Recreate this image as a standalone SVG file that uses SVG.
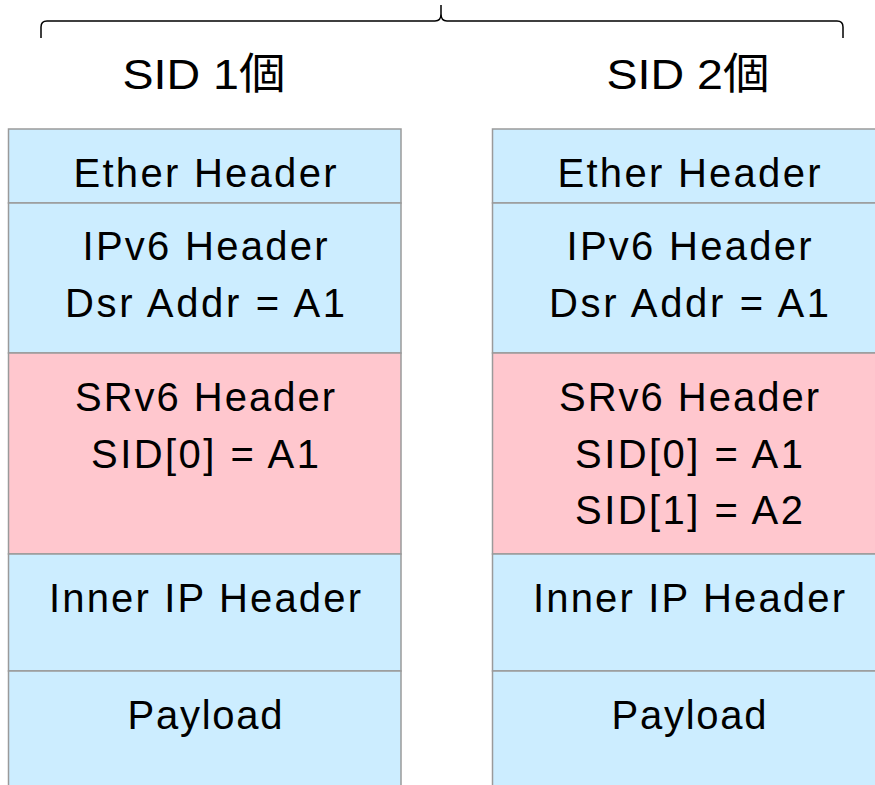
<svg xmlns="http://www.w3.org/2000/svg" width="875" height="785" viewBox="0 0 875 785">
<style>
.blue{fill:#CCEDFF;stroke:#9a9a9a;stroke-width:1.5}
.pink{fill:#FFC7CE;stroke:#9a9a9a;stroke-width:1.5}
text{font-family:"Liberation Sans","Noto Sans CJK JP",sans-serif;font-size:40px;fill:#000;text-anchor:middle}
.title{font-size:43px}
.brace{fill:none;stroke:#000;stroke-width:1.5}
</style>
<rect width="875" height="785" fill="#fff"/>
<g id="brace">
<path class="brace" d="M41,38 V27 Q41,21 47,21 H435 Q441,21 441,14 V5 M441,14 Q441,21 447,21 H837 Q843,21 843,27 V38"/>
</g>
<g id="title1"><text class="title" x="204" y="89" textLength="163" lengthAdjust="spacingAndGlyphs">SID 1個</text></g>
<g id="title2"><text class="title" x="688" y="89" textLength="163" lengthAdjust="spacingAndGlyphs">SID 2個</text></g>

<g id="l-ether"><rect class="blue" x="8.5" y="129" width="392.5" height="74"/><text x="205" y="187" textLength="263" lengthAdjust="spacing">Ether Header</text></g>
<g id="l-ipv6"><rect class="blue" x="8.5" y="203" width="392.5" height="150"/><text x="205" y="260" textLength="245" lengthAdjust="spacing">IPv6 Header</text><text x="205" y="317" textLength="280" lengthAdjust="spacing">Dsr Addr = A1</text></g>
<g id="l-srv6"><rect class="pink" x="8.5" y="353" width="392.5" height="201"/><text x="205" y="411" textLength="260" lengthAdjust="spacing">SRv6 Header</text><text x="205" y="468" textLength="228" lengthAdjust="spacing">SID[0] = A1</text></g>
<g id="l-inner"><rect class="blue" x="8.5" y="554" width="392.5" height="117"/><text x="205" y="612" textLength="312" lengthAdjust="spacing">Inner IP Header</text></g>
<g id="l-payload"><rect class="blue" x="8.5" y="671" width="392.5" height="120"/><text x="205" y="729" textLength="155" lengthAdjust="spacing">Payload</text></g>

<g id="r-ether"><rect class="blue" x="492.5" y="129" width="392.5" height="74"/><text x="689" y="187" textLength="263" lengthAdjust="spacing">Ether Header</text></g>
<g id="r-ipv6"><rect class="blue" x="492.5" y="203" width="392.5" height="150"/><text x="689" y="260" textLength="245" lengthAdjust="spacing">IPv6 Header</text><text x="689" y="317" textLength="280" lengthAdjust="spacing">Dsr Addr = A1</text></g>
<g id="r-srv6"><rect class="pink" x="492.5" y="353" width="392.5" height="201"/><text x="689" y="411" textLength="260" lengthAdjust="spacing">SRv6 Header</text><text x="689" y="468" textLength="228" lengthAdjust="spacing">SID[0] = A1</text><text x="689" y="524" textLength="228" lengthAdjust="spacing">SID[1] = A2</text></g>
<g id="r-inner"><rect class="blue" x="492.5" y="554" width="392.5" height="117"/><text x="689" y="612" textLength="312" lengthAdjust="spacing">Inner IP Header</text></g>
<g id="r-payload"><rect class="blue" x="492.5" y="671" width="392.5" height="120"/><text x="689" y="729" textLength="155" lengthAdjust="spacing">Payload</text></g>
<g id="connectors"/>
</svg>
